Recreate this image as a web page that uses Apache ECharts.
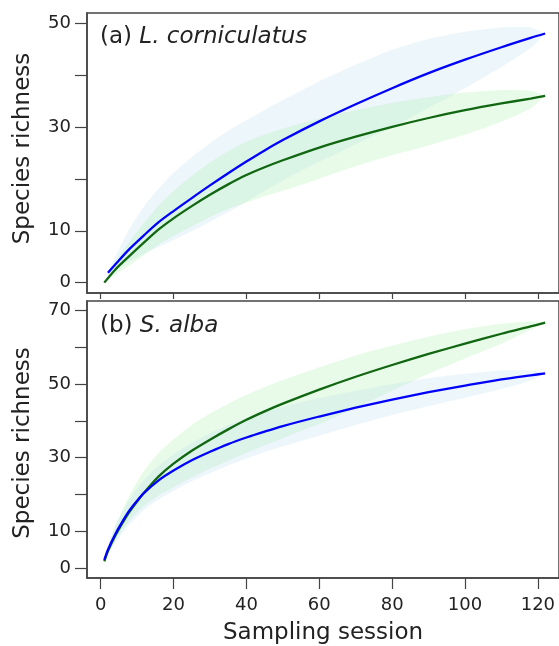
<!DOCTYPE html>
<html>
<head>
<meta charset="utf-8">
<script src="https://cdn.jsdelivr.net/npm/echarts@6/dist/echarts.min.js"></script>
<style>html,body{margin:0;padding:0;background:#fff}#c{width:559px;height:646px}</style>
</head>
<body>
<div id="c"></div>
<script>
// ---------- Panel (a) L. corniculatus ----------
const xABlue   = [2, 4, 8, 12, 16, 20, 25, 30, 35, 40, 45, 50, 60, 70, 80, 90, 100, 110, 118, 122];
const aBlue    = [1.9, 3.5, 6.55, 9.2, 11.7, 13.8, 16.3, 18.75, 21.1, 23.35, 25.5, 27.5, 31.1, 34.4, 37.5, 40.4, 43.0, 45.4, 47.2, 48.05];
const aBlueHi  = [2.0, 5.0, 10.5, 14.8, 18.2, 21.2, 24.2, 26.9, 29.3, 31.3, 33.3, 35.2, 38.8, 42.0, 44.9, 47.0, 48.4, 49.2, 49.2, 48.05];
const aBlueLo  = [1.8, 2.6, 4.2, 5.6, 6.9, 8.2, 9.9, 11.7, 13.6, 15.6, 17.7, 19.7, 23.3, 26.7, 30.0, 33.7, 37.5, 41.6, 45.2, 48.05];

const xAGreen  = [1, 4, 8, 12, 16, 20, 25, 30, 35, 40, 45, 50, 60, 70, 80, 90, 100, 110, 118, 122];
const aGreen   = [0, 2.5, 5.2, 7.8, 10.3, 12.4, 14.75, 16.95, 18.95, 20.75, 22.25, 23.6, 26.05, 28.15, 30.05, 31.75, 33.25, 34.55, 35.5, 36.0];
const aGreenHi = [0, 4.0, 8.0, 11.6, 14.9, 17.6, 20.55, 23.15, 25.35, 27.15, 28.55, 29.7, 31.65, 33.25, 34.65, 35.75, 36.65, 37.15, 37.0, 36.0];
const aGreenLo = [0, 1.5, 3.4, 5.4, 7.4, 9.0, 10.85, 12.65, 14.25, 15.45, 16.65, 17.7, 20.05, 22.45, 24.55, 26.45, 28.55, 31.05, 33.6, 36.0];

// ---------- Panel (b) S. alba ----------
const xB       = [1, 2, 4, 6, 8, 10, 12, 16, 20, 25, 30, 35, 40, 45, 50, 60, 70, 80, 90, 100, 110, 118, 122];
const bBlue    = [2.2, 5.0, 9.2, 12.7, 15.8, 18.3, 20.5, 23.9, 26.5, 29.3, 31.6, 33.7, 35.5, 37.1, 38.6, 41.2, 43.6, 45.8, 47.8, 49.6, 51.3, 52.4, 52.9];
const bBlueHi  = [2.2, 6.2, 11.4, 15.3, 18.8, 21.6, 24.1, 27.9, 30.9, 34.0, 36.6, 38.8, 40.7, 42.3, 43.8, 46.2, 48.2, 50.0, 51.6, 52.8, 53.7, 53.7, 52.9];
const bBlueLo  = [2.2, 3.8, 6.8, 9.5, 12.0, 14.0, 15.9, 18.7, 21.0, 23.6, 25.8, 27.9, 29.8, 31.5, 33.1, 36.0, 38.9, 41.6, 44.0, 46.3, 48.7, 51.0, 52.9];
const bGreen   = [1.8, 4.6, 8.8, 12.3, 15.4, 18.1, 20.6, 25.0, 28.4, 31.9, 34.9, 37.7, 40.3, 42.6, 44.7, 48.5, 52.0, 55.2, 58.2, 61.0, 63.7, 65.7, 66.7];
const bGreenHi = [1.8, 5.6, 11.3, 15.8, 19.9, 23.4, 26.6, 31.4, 35.0, 38.9, 42.0, 44.7, 47.1, 49.2, 51.1, 54.6, 57.8, 60.5, 62.9, 64.9, 66.4, 67.0, 66.7];
const bGreenLo = [1.8, 4.0, 7.6, 10.5, 13.0, 15.2, 17.0, 19.8, 22.0, 24.6, 27.0, 29.2, 31.3, 33.3, 35.3, 39.2, 43.6, 48.2, 52.8, 57.0, 61.0, 64.8, 66.7];

// ---------- Axis ticks / labels ----------
const xTicks = [0, 20, 40, 60, 80, 100, 120];
const yTicksA = [0, 10, 20, 30, 40, 50];
const yLabelsA = [0, 10, 30, 50];
const yTicksB = [0, 10, 20, 30, 40, 50, 60, 70];
const yLabelsB = [0, 10, 30, 50, 70];

const titleA = ['(a) ', 'L. corniculatus'];
const titleB = ['(b) ', 'S. alba'];
const yName = 'Species richness';
const xName = 'Sampling session';

const FONT = 'DejaVu Sans';
const BLUE = '#0000ff', GREEN = '#116611';
const BLUE_BAND = 'rgba(173,216,235,0.22)', GREEN_BAND = 'rgba(150,235,150,0.22)';
const FRAME = '#444';

const zip = (xs, ys) => xs.map((x, i) => [x, ys[i]]);

function band(xs, lo, hi, color, gi) {
  return {
    type: 'custom', xAxisIndex: gi, yAxisIndex: gi, silent: true, z: 1,
    data: [[xs[0], lo[0]]],
    renderItem: function (params, api) {
      const pts = [];
      for (let i = 0; i < xs.length; i++) pts.push(api.coord([xs[i], hi[i]]));
      for (let i = xs.length - 1; i >= 0; i--) pts.push(api.coord([xs[i], lo[i]]));
      return { type: 'polygon', shape: { points: pts, smooth: 0.2 }, style: { fill: color, stroke: null } };
    }
  };
}
function line(xs, ys, color, gi) {
  return {
    type: 'line', xAxisIndex: gi, yAxisIndex: gi, data: zip(xs, ys), showSymbol: false,
    smooth: 0.3, z: 5, lineStyle: { color: color, width: 2.3 }, silent: true
  };
}
function xAxis(gi, showLabels) {
  return {
    type: 'value', gridIndex: gi, min: -3.75, max: 125.8, position: 'bottom', offset: 0,
    axisLine: { show: true, onZero: false, lineStyle: { color: FRAME, width: 1.5 } }, splitLine: { show: false },
    axisTick: { show: true, inside: false, customValues: xTicks, length: showLabels ? 11 : 6, lineStyle: { color: FRAME, width: 1.2 } },
    axisLabel: { show: showLabels, inside: false, customValues: xTicks, fontFamily: FONT, fontSize: 18, color: '#222', margin: 18 },
    name: showLabels ? xName : '', nameLocation: 'middle', nameGap: 44,
    nameTextStyle: { fontFamily: FONT, fontSize: 23, color: '#222' }
  };
}
function yAxis(gi, min, max, ticks, labels, pad) {
  return {
    type: 'value', gridIndex: gi, min: min, max: max, position: 'left', offset: 0,
    axisLine: { show: true, onZero: false, lineStyle: { color: FRAME, width: 1.5 } }, splitLine: { show: false },
    axisTick: { show: true, inside: false, customValues: ticks, length: 12, lineStyle: { color: FRAME, width: 1.2 } },
    axisLabel: { inside: false, customValues: labels, fontFamily: FONT, fontSize: 18, color: '#222', margin: 16 },
    name: yName, nameLocation: 'middle', nameGap: 52,
    nameTextStyle: { fontFamily: FONT, fontSize: 23, color: '#222', padding: pad }
  };
}
function title(parts, top) {
  return {
    left: 100, top: top, padding: 0,
    text: '{n|' + parts[0] + '}{i|' + parts[1] + '}',
    textStyle: { fontWeight: 'normal', rich: {
      n: { fontFamily: FONT, fontSize: 23, color: '#222', fontWeight: 'normal' },
      i: { fontFamily: FONT, fontSize: 23, color: '#222', fontStyle: 'italic', fontWeight: 'normal' }
    } }
  };
}

const chart = echarts.init(document.getElementById('c'), null, { renderer: 'canvas' });
chart.setOption({
  animation: false,
  backgroundColor: '#fff',
  title: [title(titleA, 26), title(titleB, 315)],
  grid: [
    { left: 87, top: 13, width: 473, height: 280, show: true, borderColor: FRAME, borderWidth: 1.5, backgroundColor: 'transparent' },
    { left: 87, top: 301, width: 473, height: 279, show: true, borderColor: FRAME, borderWidth: 1.5, backgroundColor: 'transparent' }
  ],
  xAxis: [xAxis(0, false), xAxis(1, true)],
  yAxis: [yAxis(0, -2, 52, yTicksA, yLabelsA, [0, 0, 0, 9]), yAxis(1, -2.7, 72.6, yTicksB, yLabelsB, [0, 7, 0, 0])],
  series: [
    band(xABlue, aBlueLo, aBlueHi, BLUE_BAND, 0),
    band(xAGreen, aGreenLo, aGreenHi, GREEN_BAND, 0),
    line(xAGreen, aGreen, GREEN, 0),
    line(xABlue, aBlue, BLUE, 0),
    band(xB, bGreenLo, bGreenHi, GREEN_BAND, 1),
    band(xB, bBlueLo, bBlueHi, BLUE_BAND, 1),
    line(xB, bGreen, GREEN, 1),
    line(xB, bBlue, BLUE, 1)
  ]
});
</script>
</body>
</html>
